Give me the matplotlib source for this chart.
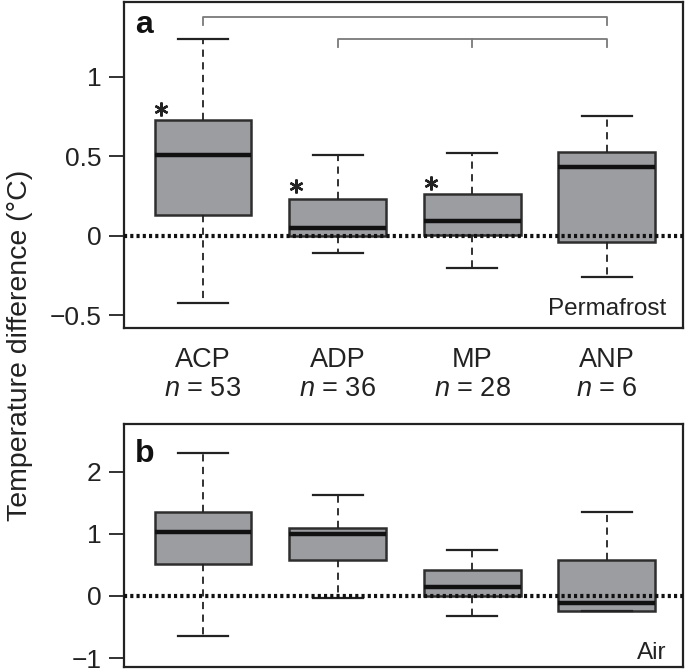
import matplotlib
matplotlib.use("Agg")
import matplotlib.pyplot as plt
from matplotlib.transforms import blended_transform_factory

plt.rcParams['font.family'] = ['Liberation Sans', 'DejaVu Sans']
plt.rcParams['mathtext.fontset'] = 'custom'
plt.rcParams['mathtext.rm'] = 'Liberation Sans'
plt.rcParams['mathtext.it'] = 'Liberation Sans:italic'

# ---- data ----
categories = ["ACP", "ADP", "MP", "ANP"]
n_counts = [53, 36, 28, 6]

# Panel a: permafrost
a_whislo = [-0.42, -0.11, -0.20, -0.26]
a_q1     = [0.13, 0.0, 0.005, -0.04]
a_med    = [0.506, 0.048, 0.09, 0.43]
a_q3     = [0.73, 0.233, 0.263, 0.525]
a_whishi = [1.24, 0.506, 0.523, 0.756]
a_star_y = [0.80, 0.31, 0.335]          # significance stars for first three groups

# Panel b: air
b_whislo = [-0.65, -0.03, -0.33, -0.24]
b_q1     = [0.52, 0.58, 0.0, -0.24]
b_med    = [1.03, 1.0, 0.145, -0.11]
b_q3     = [1.35, 1.09, 0.42, 0.58]
b_whishi = [2.31, 1.63, 0.74, 1.35]

# comparison brackets in panel a: (from group, to group, height)
brackets = [(1, 4, 1.377), (2, 4, 1.24)]
bracket_mid_ticks = [[], [3]]

a_yticks = [-0.5, 0, 0.5, 1]
a_yticklabels = ["\u22120.5", "0", "0.5", "1"]
b_yticks = [-1, 0, 1, 2]
b_yticklabels = ["\u22121", "0", "1", "2"]

positions = [1, 2, 3, 4]

fig = plt.figure(figsize=(6.85, 6.70), dpi=100)
ax_a = fig.add_axes([0.181, 0.5104, 0.816, 0.4866])
ax_b = fig.add_axes([0.181, 0.004, 0.816, 0.363])

box_face = '#9c9da1'
box_edge = '#2e2e2e'


def draw(ax, lo, q1, med, q3, hi):
    stats = []
    for i in range(len(lo)):
        stats.append(dict(whislo=lo[i], q1=q1[i], med=med[i], q3=q3[i],
                          whishi=hi[i], fliers=[]))
    ax.bxp(stats, positions=positions, widths=0.72, capwidths=0.37,
           patch_artist=True, showfliers=False,
           boxprops=dict(facecolor=box_face, edgecolor=box_edge, linewidth=1.8),
           medianprops=dict(color='#111111', linewidth=3.2, solid_capstyle='butt'),
           whiskerprops=dict(color='#222222', linewidth=1.3, linestyle=(0, (4, 3))),
           capprops=dict(color='#222222', linewidth=1.6))
    ax.axhline(0, color='#111111', linewidth=3, linestyle=(0, (0.75, 0.75)), zorder=5)
    ax.set_xlim(0.413, 4.565)
    ax.set_xticks([])
    for s in ax.spines.values():
        s.set_linewidth(1.6)
        s.set_color('#222222')
    ax.tick_params(axis='y', direction='out', length=11, width=1.3,
                   labelsize=19, pad=5, colors='#222222')


draw(ax_a, a_whislo, a_q1, a_med, a_q3, a_whishi)
draw(ax_b, b_whislo, b_q1, b_med, b_q3, b_whishi)

ax_a.set_ylim(-0.58, 1.47)
ax_a.set_yticks(a_yticks)
ax_a.set_yticklabels(a_yticklabels)
ax_b.set_ylim(-1.15, 2.77)
ax_b.set_yticks(b_yticks)
ax_b.set_yticklabels(b_yticklabels)

# stars
star_x = [p - 0.31 for p in positions[:3]]
ax_a.plot(star_x, a_star_y, linestyle='none', marker=(6, 2, 0),
          markersize=10, markeredgewidth=1.7, color='#222222')

# brackets
for (g0, g1, h), mids in zip(brackets, bracket_mid_ticks):
    drop = 0.05
    ax_a.plot([g0, g0, g1, g1], [h - drop, h, h, h - drop],
              color='#7a7a7a', linewidth=1.3, clip_on=False)
    for m in mids:
        ax_a.plot([m, m], [h, h - drop], color='#7a7a7a', linewidth=1.3)

# panel letters and labels
ax_a.text(0.02, 0.905, 'a', transform=ax_a.transAxes, fontsize=23,
          fontweight='bold', va='baseline', ha='left', color='#111111')
ax_b.text(0.02, 0.844, 'b', transform=ax_b.transAxes, fontsize=23,
          fontweight='bold', va='baseline', ha='left', color='#111111')
ax_a.text(0.971, 0.04, 'Permafrost', transform=ax_a.transAxes, fontsize=17.5,
          va='baseline', ha='right', color='#222222')
ax_b.text(0.971, 0.033, 'Air', transform=ax_b.transAxes, fontsize=17.5,
          va='baseline', ha='right', color='#222222')

# category labels between panels
tr = blended_transform_factory(ax_a.transData, fig.transFigure)
for p, c, n in zip(positions, categories, n_counts):
    fig.text(p, 1 - 367 / 670, c, transform=tr, ha='center', va='baseline',
             fontsize=19.5, color='#222222')
    fig.text(p, 1 - 396 / 670, r'$n$ = %d' % n, transform=tr, ha='center',
             va='baseline', fontsize=19.5, color='#222222')

fig.text(0.029, 1 - 345 / 670, 'Temperature difference (\u00b0C)', rotation=90,
         ha='center', va='center', fontsize=20.5, color='#222222')

fig.savefig('out.png', dpi=100)
